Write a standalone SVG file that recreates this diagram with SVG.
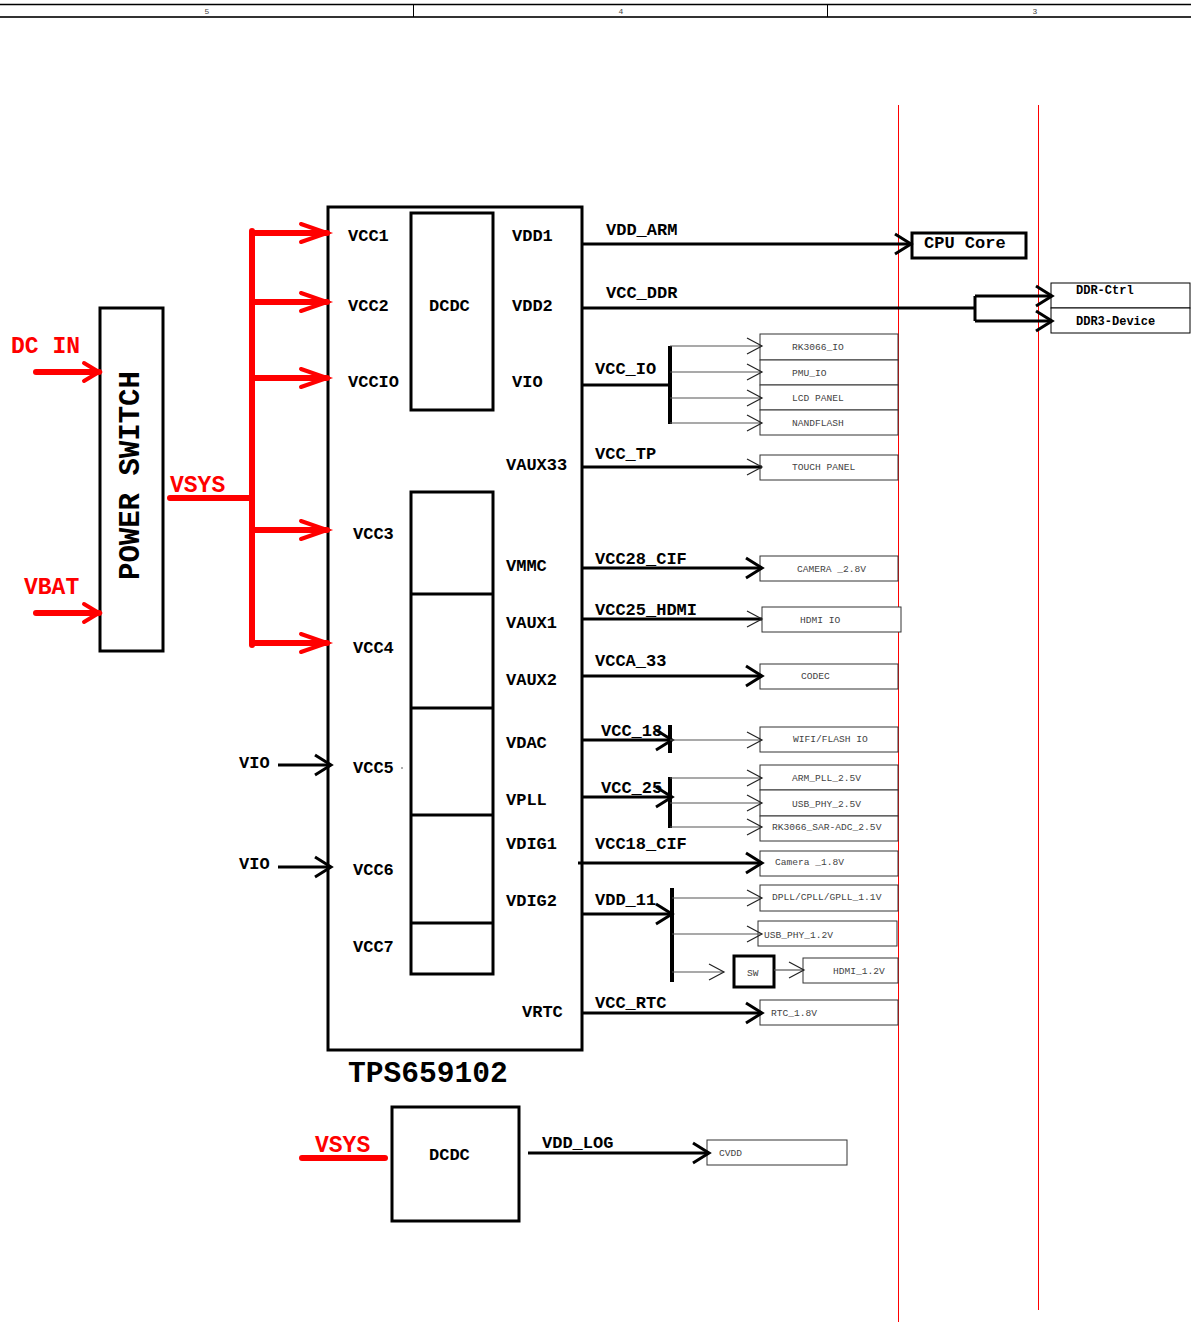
<svg xmlns="http://www.w3.org/2000/svg" width="1191" height="1322" viewBox="0 0 1191 1322">
<style>
text{font-family:"Liberation Mono","Courier New",monospace}
.b{font-weight:bold;fill:#000}
.lbl{font-size:17px;font-weight:bold}
.red{fill:#f00;font-weight:bold;font-size:23px}
.sm{font-size:9.6px;fill:#444}
.thick{fill:none;stroke:#000;stroke-width:3}
.thinbox{fill:#fff;stroke:#333;stroke-width:1}
.w3{fill:none;stroke:#000;stroke-width:3}
.w4{fill:none;stroke:#000;stroke-width:4}
.tl{fill:none;stroke:#555;stroke-width:1.2}
.rl{fill:none;stroke:#f00;stroke-width:6;stroke-linecap:round}
.guide{stroke:#f00;stroke-width:1}
</style>
<defs>
<marker id="mr" markerUnits="userSpaceOnUse" orient="auto" overflow="visible" refX="0" refY="0" markerWidth="30" markerHeight="20"><path d="M-26,-9 L0,0 L-26,9" fill="none" stroke="#f00" stroke-width="4" stroke-linecap="round"/></marker>
<marker id="mrs" markerUnits="userSpaceOnUse" orient="auto" overflow="visible" refX="0" refY="0" markerWidth="20" markerHeight="20"><path d="M-15,-9 L0,0 L-15,9" fill="none" stroke="#f00" stroke-width="4" stroke-linecap="round"/></marker>
<marker id="mb" markerUnits="userSpaceOnUse" orient="auto" overflow="visible" refX="0" refY="0" markerWidth="20" markerHeight="24"><path d="M-16,-10 L0,0 L-16,10" fill="none" stroke="#000" stroke-width="3"/></marker>
<marker id="mt" markerUnits="userSpaceOnUse" orient="auto" overflow="visible" refX="0" refY="0" markerWidth="20" markerHeight="20"><path d="M-15,-8 L0,0 L-15,8" fill="none" stroke="#222" stroke-width="1.2"/></marker>
</defs>
<rect width="1191" height="1322" fill="#fff"/>

<g id="frame">
<line x1="0" y1="4.5" x2="1191" y2="4.5" stroke="#000" stroke-width="1.5"/>
<line x1="0" y1="17" x2="1191" y2="17" stroke="#333" stroke-width="2"/>
<line x1="413.5" y1="4" x2="413.5" y2="17" stroke="#000" stroke-width="1"/>
<line x1="827.5" y1="4" x2="827.5" y2="17" stroke="#000" stroke-width="1"/>
<text x="207" y="14" font-size="8" fill="#444" text-anchor="middle">5</text>
<text x="621" y="14" font-size="8" fill="#444" text-anchor="middle">4</text>
<text x="1035" y="14" font-size="8" fill="#444" text-anchor="middle">3</text>
<line class="guide" x1="898.5" y1="105" x2="898.5" y2="1322"/>
<line class="guide" x1="1038.5" y1="105" x2="1038.5" y2="1310"/>
</g>

<g id="power-switch">
<rect x="100" y="308" width="63" height="343" class="thick" fill="#fff"/>
<text class="b" font-size="29" x="139" y="580" transform="rotate(-90 139 580)">POWER SWITCH</text>
<text class="red" x="11" y="353">DC IN</text>
<text class="red" x="24" y="594">VBAT</text>
<text class="red" x="170" y="492">VSYS</text>
</g>

<g id="tps659102">
<rect x="328" y="207" width="254" height="843" class="thick" fill="#fff"/>
<rect x="411" y="213" width="82" height="197" class="thick"/>
<rect x="411" y="492" width="82" height="482" class="thick"/>
<line x1="411" y1="594" x2="493" y2="594" class="w3"/>
<line x1="411" y1="708" x2="493" y2="708" class="w3"/>
<line x1="411" y1="815" x2="493" y2="815" class="w3"/>
<line x1="411" y1="923" x2="493" y2="923" class="w3"/>
<text class="lbl" x="429" y="311">DCDC</text>
<text class="lbl" x="348" y="241">VCC1</text>
<text class="lbl" x="348" y="311">VCC2</text>
<text class="lbl" x="348" y="387">VCCIO</text>
<text class="lbl" x="353" y="539">VCC3</text>
<text class="lbl" x="353" y="653">VCC4</text>
<text class="lbl" x="353" y="773">VCC5</text>
<circle cx="402" cy="768" r="0.8" fill="#444"/>
<text class="lbl" x="353" y="875">VCC6</text>
<text class="lbl" x="353" y="952">VCC7</text>
<text class="lbl" x="512" y="241">VDD1</text>
<text class="lbl" x="512" y="311">VDD2</text>
<text class="lbl" x="512" y="387">VIO</text>
<text class="lbl" x="506" y="470">VAUX33</text>
<text class="lbl" x="506" y="571">VMMC</text>
<text class="lbl" x="506" y="628">VAUX1</text>
<text class="lbl" x="506" y="685">VAUX2</text>
<text class="lbl" x="506" y="748">VDAC</text>
<text class="lbl" x="506" y="805">VPLL</text>
<text class="lbl" x="506" y="849">VDIG1</text>
<text class="lbl" x="506" y="906">VDIG2</text>
<text class="lbl" x="522" y="1017">VRTC</text>
<text class="b" font-size="29.6" x="348" y="1082">TPS659102</text>
</g>

<g id="dcdc-log">
<rect x="392" y="1107" width="127" height="114" class="thick" fill="#fff"/>
<text class="lbl" x="429" y="1160">DCDC</text>
<text class="red" x="315" y="1152">VSYS</text>
</g>

<g id="cpu-core">
<rect x="912" y="233" width="114" height="25" class="thick" fill="#fff"/>
<text class="lbl" x="924" y="248">CPU Core</text>
</g>
<g id="ddr">
<rect x="1051" y="283" width="139" height="25" fill="#fff" stroke="#000" stroke-width="1"/>
<rect x="1051" y="308" width="139" height="25" fill="#fff" stroke="#000" stroke-width="1"/>
<text class="b" font-size="12" x="1076" y="294">DDR-Ctrl</text>
<text class="b" font-size="12" x="1076" y="325">DDR3-Device</text>
</g>
<g id="loads-io">
<rect class="thinbox" x="760" y="334" width="138" height="26"/>
<rect class="thinbox" x="760" y="360" width="138" height="25"/>
<rect class="thinbox" x="760" y="385" width="138" height="25"/>
<rect class="thinbox" x="760" y="410" width="138" height="25"/>
<text class="sm" x="792" y="350">RK3066_IO</text>
<text class="sm" x="792" y="376">PMU_IO</text>
<text class="sm" x="792" y="401">LCD PANEL</text>
<text class="sm" x="792" y="426">NANDFLASH</text>
</g>
<g id="touch"><rect class="thinbox" x="760" y="455" width="138" height="25"/><text class="sm" x="792" y="470">TOUCH PANEL</text></g>
<g id="cam28"><rect class="thinbox" x="760" y="556" width="138" height="25"/><text class="sm" x="797" y="572">CAMERA _2.8V</text></g>
<g id="hdmiio"><rect class="thinbox" x="762" y="607" width="139" height="25"/><text class="sm" x="800" y="623">HDMI IO</text></g>
<g id="codec"><rect class="thinbox" x="760" y="664" width="138" height="25"/><text class="sm" x="801" y="679">CODEC</text></g>
<g id="wifi"><rect class="thinbox" x="760" y="727" width="138" height="25"/><text class="sm" x="793" y="742">WIFI/FLASH IO</text></g>
<g id="loads-25">
<rect class="thinbox" x="760" y="765" width="138" height="25"/>
<rect class="thinbox" x="760" y="790" width="138" height="26"/>
<rect class="thinbox" x="760" y="816" width="138" height="25"/>
<text class="sm" x="792" y="781">ARM_PLL_2.5V</text>
<text class="sm" x="792" y="807">USB_PHY_2.5V</text>
<text class="sm" x="772" y="830">RK3066_SAR-ADC_2.5V</text>
</g>
<g id="cam18"><rect class="thinbox" x="760" y="851" width="138" height="25"/><text class="sm" x="775" y="865">Camera _1.8V</text></g>
<g id="pll11"><rect class="thinbox" x="760" y="885" width="138" height="26"/><text class="sm" x="772" y="900">DPLL/CPLL/GPLL_1.1V</text></g>
<g id="usb12"><rect class="thinbox" x="758" y="921" width="139" height="25"/><text class="sm" x="764" y="938">USB_PHY_1.2V</text></g>
<g id="sw"><rect x="734" y="956" width="40" height="31" fill="#fff" stroke="#000" stroke-width="3"/><text class="sm" x="747" y="976">SW</text></g>
<g id="hdmi12"><rect class="thinbox" x="803" y="958" width="95" height="25"/><text class="sm" x="833" y="974">HDMI_1.2V</text></g>
<g id="rtc"><rect class="thinbox" x="760" y="1000" width="138" height="25"/><text class="sm" x="771" y="1016">RTC_1.8V</text></g>
<g id="cvdd"><rect class="thinbox" x="707" y="1140" width="140" height="25"/><text class="sm" x="719" y="1156" font-size="8.5">CVDD</text></g>

<g id="connectors">
<path class="rl" d="M252,231 V645"/>
<path class="rl" d="M170,498 H252"/>
<path class="rl" d="M252,233 H327" stroke-linecap="butt" marker-end="url(#mr)"/>
<path class="rl" d="M252,302 H327" stroke-linecap="butt" marker-end="url(#mr)"/>
<path class="rl" d="M252,378 H327" stroke-linecap="butt" marker-end="url(#mr)"/>
<path class="rl" d="M252,530 H327" stroke-linecap="butt" marker-end="url(#mr)"/>
<path class="rl" d="M252,643 H327" stroke-linecap="butt" marker-end="url(#mr)"/>
<path class="rl" d="M36,372 H99" marker-end="url(#mrs)"/>
<path class="rl" d="M36,613 H99" marker-end="url(#mrs)"/>
<path class="rl" d="M302,1158 H385"/>

<path class="w3" d="M278,765 H331" marker-end="url(#mb)"/>
<path class="w3" d="M278,867 H331" marker-end="url(#mb)"/>

<path class="w3" d="M582,244 H911" marker-end="url(#mb)"/>
<path class="w3" d="M582,308 H975 M975,296 V321"/>
<path class="w3" d="M975,296 H1052" marker-end="url(#mb)"/>
<path class="w3" d="M975,321 H1052" marker-end="url(#mb)"/>

<path class="w3" d="M582,385 H670"/>
<path class="w4" d="M670,346 V424"/>
<path class="tl" d="M670,346 H762" marker-end="url(#mt)"/>
<path class="tl" d="M670,372 H762" marker-end="url(#mt)"/>
<path class="tl" d="M670,398 H762" marker-end="url(#mt)"/>
<path class="tl" d="M670,423 H762" marker-end="url(#mt)"/>

<path class="w3" d="M582,467 H762" marker-end="url(#mt)"/>
<path class="w3" d="M582,568 H762" marker-end="url(#mb)"/>
<path class="w3" d="M582,619 H762" marker-end="url(#mt)"/>
<path class="w3" d="M582,676 H762" marker-end="url(#mb)"/>

<path class="w3" d="M582,740 H672" marker-end="url(#mb)"/>
<path class="w4" d="M670,725 V753"/>
<path class="tl" d="M670,740 H762" marker-end="url(#mt)"/>

<path class="w3" d="M582,797 H672" marker-end="url(#mb)"/>
<path class="w4" d="M670,777 V828"/>
<path class="tl" d="M670,778 H762" marker-end="url(#mt)"/>
<path class="tl" d="M670,803 H762" marker-end="url(#mt)"/>
<path class="tl" d="M670,827 H762" marker-end="url(#mt)"/>

<path class="w3" d="M578,863 H762" marker-end="url(#mb)"/>

<path class="w3" d="M582,914 H672" marker-end="url(#mb)"/>
<path class="w4" d="M672,888 V982"/>
<path class="tl" d="M672,898 H762" marker-end="url(#mt)"/>
<path class="tl" d="M672,934 H762" marker-end="url(#mt)"/>
<path class="tl" d="M672,972 H724" marker-end="url(#mt)"/>
<path class="tl" d="M774,970 H804" marker-end="url(#mt)"/>

<path class="w3" d="M582,1013 H762" marker-end="url(#mb)"/>
<path class="w3" d="M528,1153 H709" marker-end="url(#mb)"/>
</g>

<g id="net-labels">
<text class="lbl" x="606" y="235">VDD_ARM</text>
<text class="lbl" x="606" y="298">VCC_DDR</text>
<text class="lbl" x="595" y="374">VCC_IO</text>
<text class="lbl" x="595" y="459">VCC_TP</text>
<text class="lbl" x="595" y="564">VCC28_CIF</text>
<text class="lbl" x="595" y="615">VCC25_HDMI</text>
<text class="lbl" x="595" y="666">VCCA_33</text>
<text class="lbl" x="601" y="736">VCC_18</text>
<text class="lbl" x="601" y="793">VCC_25</text>
<text class="lbl" x="595" y="849">VCC18_CIF</text>
<text class="lbl" x="595" y="905">VDD_11</text>
<text class="lbl" x="595" y="1008">VCC_RTC</text>
<text class="lbl" x="542" y="1148">VDD_LOG</text>
<text class="lbl" x="239" y="768">VIO</text>
<text class="lbl" x="239" y="869">VIO</text>
</g>
</svg>
